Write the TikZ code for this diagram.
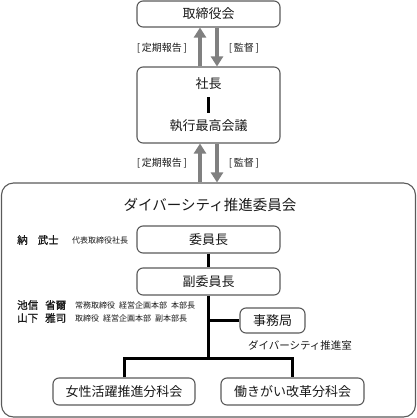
\documentclass[tikz,border=0pt]{standalone}
\usepackage{fontspec}
\setmainfont{Noto Sans CJK JP}[AutoFakeBold=1.2]
\usetikzlibrary{arrows.meta}
\definecolor{boxline}{HTML}{5A5A5A}
\definecolor{arrowgray}{HTML}{808080}
\definecolor{txt}{HTML}{1A1A1A}
\tikzset{
  box/.style={draw=boxline, line width=1.1pt, rounded corners=6pt, fill=white, inner sep=0pt, font=\fontsize{13}{15}\selectfont, text=txt},
  plain/.style={inner sep=0pt, text=txt},
  garrow/.style={draw=arrowgray, line width=4pt, -{Triangle[width=12pt,length=10pt]}},
  tree/.style={draw=black, line width=3pt},
  lbl/.style={inner sep=0pt, text=txt, font=\fontsize{10}{12}\selectfont},
  nm/.style={inner sep=0pt, text=txt, anchor=west, font=\fontsize{10.5}{12}\selectfont\bfseries},
  ttl/.style={inner sep=0pt, text=txt, anchor=west, font=\fontsize{8}{10}\selectfont},
}
\begin{document}
\begin{tikzpicture}[x=1pt,y=-1pt]
\useasboundingbox (0,0) rectangle (417,418);
% big committee box
\node[box, rounded corners=12pt, minimum width=414pt, minimum height=234pt] (big) at (208.5,300) {};
% top boxes
\node[box, minimum width=143pt, minimum height=26pt] (board) at (208.5,14) {取締役会};
\node[box, minimum width=143pt, minimum height=76pt] (pres) at (208.5,105) {};
\node[plain, font=\fontsize{13}{15}\selectfont, text height=9pt, text depth=2pt] (shacho) at (208.5,85) {社長};
\node[plain, font=\fontsize{13}{15}\selectfont, text height=9pt, text depth=2pt] (shikko) at (208.5,127) {執行最高会議};
\draw[line width=3.2pt, shorten <=6.5pt, shorten >=8.5pt] (shacho) -- (shikko);
% arrows
\draw[garrow] ([xshift=-8.5pt]pres.north) -- ([xshift=-8.5pt]board.south);
\draw[garrow] ([xshift=8.5pt]board.south) -- ([xshift=8.5pt]pres.north);
\draw[garrow] ([xshift=-8.5pt]big.north) -- ([xshift=-8.5pt]pres.south);
\draw[garrow] ([xshift=8.5pt]pres.south) -- ([xshift=8.5pt]big.north);
\node[lbl] (l1) at (162,48) {[\,定期報告\,]};
\node[lbl] (l2) at (244,48) {[\,監督\,]};
\node[lbl] (l3) at (162,163) {[\,定期報告\,]};
\node[lbl] (l4) at (244,163) {[\,監督\,]};
% title
\node[plain, font=\fontsize{14.5}{16}\selectfont] (title) at (210,205) {ダイバーシティ推進委員会};
% committee boxes
\node[box, minimum width=143pt, minimum height=27pt] (chair) at (208.5,239.5) {委員長};
\node[box, minimum width=143pt, minimum height=27pt] (vice) at (208.5,281.5) {副委員長};
\node[box, minimum width=65pt, minimum height=25pt] (jimu) at (272.5,320.5) {事務局};
\node[box, minimum width=142pt, minimum height=27pt] (josei) at (124,391.5) {女性活躍推進分科会};
\node[box, minimum width=143pt, minimum height=27pt] (hatara) at (292.5,391.5) {働きがい改革分科会};
\node[plain, font=\fontsize{10.5}{12}\selectfont] (shitsu) at (300,345) {ダイバーシティ推進室};
% tree
\coordinate (j) at (208.5,358);
\draw[tree] (chair) -- (vice);
\draw[tree] (vice.south) -- (j);
\draw[tree] (jimu.west) -- (jimu.west -| j);
\draw[tree] (josei.north) |- (j) -| (hatara.north);
% names
\node[nm] (n1) at (17,240) {納\hspace{10pt}武士};
\node[ttl] (t1) at (72,240.5) {代表取締役社長};
\node[nm] (n2) at (17,305) {池信\hspace{7pt}省爾};
\node[ttl] (t2) at (75,305.5) {常務取締役\hspace{4pt}経営企画本部\hspace{4pt}本部長};
\node[nm] (n3) at (17,318) {山下\hspace{7pt}雅司};
\node[ttl] (t3) at (75,318.5) {取締役\hspace{4pt}経営企画本部\hspace{4pt}副本部長};
\end{tikzpicture}
\end{document}
